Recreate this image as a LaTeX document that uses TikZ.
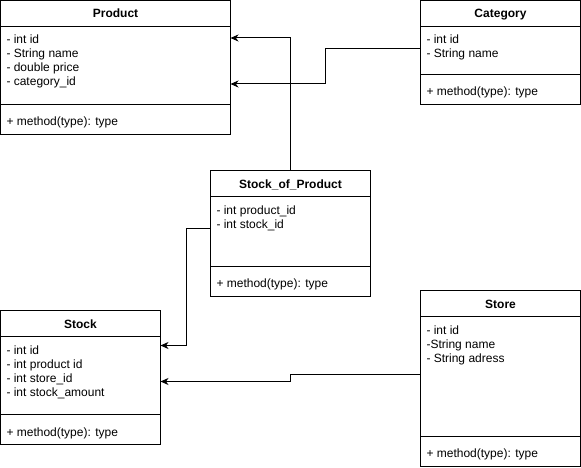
\documentclass[tikz,border=0pt]{standalone}
\usepackage{fontspec}
\setmainfont{Liberation Sans}
\usetikzlibrary{calc,arrows.meta}

\begin{document}
\begin{tikzpicture}[x=1pt,y=-1pt,
  line width=1pt,
  classbox/.style={draw, rectangle, anchor=north west, inner sep=0pt, outer sep=0pt},
  head/.style={anchor=base, inner sep=0pt, font=\bfseries\fontsize{12}{14}\selectfont},
  field/.style={anchor=base west, inner sep=0pt, font=\fontsize{12}{14}\selectfont},
  assoc/.style={-{Stealth[length=8pt,width=7pt,inset=2.5pt]}},
]
\useasboundingbox[fill=white] (0,0) rectangle (581,468);

% Product
\node[classbox, minimum width=230pt, minimum height=134pt] (product) at (0.5,0.5) {};
\draw ($(product.north west)+(0,26)$) -- ($(product.north east)+(0,26)$);
\draw ($(product.north west)+(0,104)$) -- ($(product.north east)+(0,104)$);
\node[head] (product-h) at (115.5,18) {Product};
\foreach \t [count=\i] in {- int id, - String name, - double price, - category\_id}
  \node[field] (product-f\i) at (6,{44+14*(\i-1)}) {\t};
\node[field] (product-m) at (6,126) {+ method(type): type};

% Category
\node[classbox, minimum width=160pt, minimum height=104pt] (category) at (420.5,0.5) {};
\draw ($(category.north west)+(0,26)$) -- ($(category.north east)+(0,26)$);
\draw ($(category.north west)+(0,74)$) -- ($(category.north east)+(0,74)$);
\node[head] (category-h) at (500.5,18) {Category};
\foreach \t [count=\i] in {- int id, - String name}
  \node[field] (category-f\i) at (426,{44+14*(\i-1)}) {\t};
\node[field] (category-m) at (426,96) {+ method(type): type};

% Stock_of_Product
\node[classbox, minimum width=160pt, minimum height=126pt] (sop) at (210.5,170.5) {};
\draw ($(sop.north west)+(0,26)$) -- ($(sop.north east)+(0,26)$);
\draw ($(sop.north west)+(0,96)$) -- ($(sop.north east)+(0,96)$);
\node[head] (sop-h) at (290.5,188) {Stock\_of\_Product};
\foreach \t [count=\i] in {- int product\_id, - int stock\_id}
  \node[field] (sop-f\i) at (216,{214+14*(\i-1)}) {\t};
\node[field] (sop-m) at (216,287) {+ method(type): type};

% Stock
\node[classbox, minimum width=160pt, minimum height=134pt] (stock) at (0.5,310.5) {};
\draw ($(stock.north west)+(0,26)$) -- ($(stock.north east)+(0,26)$);
\draw ($(stock.north west)+(0,104)$) -- ($(stock.north east)+(0,104)$);
\node[head] (stock-h) at (80.5,328) {Stock};
\foreach \t [count=\i] in {- int id, - int product id, - int store\_id, - int stock\_amount}
  \node[field] (stock-f\i) at (6,{354+14*(\i-1)}) {\t};
\node[field] (stock-m) at (6,436) {+ method(type): type};

% Store
\node[classbox, minimum width=160pt, minimum height=176pt] (store) at (420.5,290.5) {};
\draw ($(store.north west)+(0,26)$) -- ($(store.north east)+(0,26)$);
\draw ($(store.north west)+(0,146)$) -- ($(store.north east)+(0,146)$);
\node[head] (store-h) at (500.5,308) {Store};
\foreach \t [count=\i] in {- int id, -String name, - String adress}
  \node[field] (store-f\i) at (426,{334+14*(\i-1)}) {\t};
\node[field] (store-m) at (426,457) {+ method(type): type};

% Associations
\draw[assoc] (sop.north) |- ($(product.north east)+(0,37.5)$);
\draw[assoc] ($(category.north west)+(0,48)$) -- ++(-95,0) |- ($(product.north east)+(0,83.5)$);
\draw[assoc] ($(sop.north west)+(0,58)$) -- ++(-24.5,0) |- ($(stock.north east)+(0,35)$);
\draw[assoc] ($(store.north west)+(0,83.5)$) -- ++(-130,0) |- ($(stock.north east)+(0,71)$);
\end{tikzpicture}
\end{document}
